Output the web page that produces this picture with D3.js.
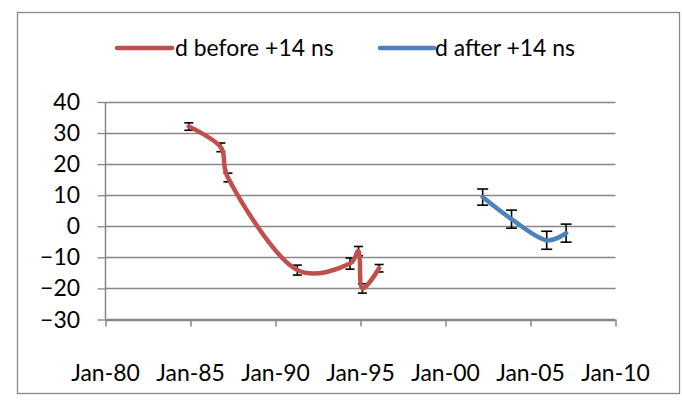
<!DOCTYPE html>
<html>
<head>
<meta charset="utf-8">
<script src="https://cdn.jsdelivr.net/npm/d3@7"></script>
<style>
  html, body { margin: 0; padding: 0; background: #fff; }
  svg { display: block; }
  text { font-family: Lato, "Open Sans", sans-serif; fill: #000; }
</style>
</head>
<body>
<svg id="chart" width="682" height="400"></svg>
<script>
// Series: d before +14 ns
const beforeDates  = ["1984-11-25", "1986-10-15", "1987-03-15", "1991-04-15",
                      "1994-05-20", "1994-11-20", "1995-02-10", "1996-02-05"];
const beforeValues = [32.1, 25.4, 15.7, -14.1, -12.0, -8.0, -20.0, -13.5];
const beforeErrors = [1.2, 1.4, 1.4, 1.6, 1.8, 1.5, 1.5, 1.2];

// Series: d after +14 ns
const afterDates  = ["2002-03-10", "2003-11-20", "2005-12-15", "2007-02-05"];
const afterValues = [9.4, 2.3, -4.5, -2.2];
const afterErrors = [2.6, 2.9, 2.9, 2.9];

const seriesNames = ["d before +14 ns", "d after +14 ns"];
const seriesColors = ["#C0504D", "#4F81BD"];

const yTicks = [40, 30, 20, 10, 0, -10, -20, -30];
const xTickYears = [1980, 1985, 1990, 1995, 2000, 2005, 2010];

const parse = d3.timeParse("%Y-%m-%d");
const fmt = d3.timeFormat("%b-%y");

const svg = d3.select("#chart");
const gridColor = "#878787";

// Outer chart frame
svg.append("rect")
  .attr("x", 17.5).attr("y", 12.5)
  .attr("width", 662).attr("height", 381)
  .attr("fill", "#fff").attr("stroke", gridColor).attr("stroke-width", 1.3);

const x = d3.scaleTime()
  .domain([new Date(1980, 0, 1), new Date(2010, 0, 1)])
  .range([105.5, 615.5]);
const y = d3.scaleLinear().domain([-30, 40]).range([319.5, 102]);

// Labels are fitted to a fixed width per "Jan-80"-sized label.
const fontSize = 23;
const probe = svg.append("text").attr("font-size", fontSize).text("Jan-80");
const stretch = 68.6 / probe.node().getComputedTextLength();
probe.remove();

function label(g, px, py, txt, anchor) {
  return g.append("text")
    .attr("transform", `translate(${px},${py}) scale(${stretch},1)`)
    .attr("text-anchor", anchor)
    .attr("font-size", fontSize)
    .text(txt);
}

// Horizontal gridlines
const grid = svg.append("g");
grid.selectAll("line").data(yTicks).join("line")
  .attr("x1", x.range()[0]).attr("x2", x.range()[1])
  .attr("y1", d => Math.round(y(d)) + 0.5).attr("y2", d => Math.round(y(d)) + 0.5)
  .attr("stroke", gridColor).attr("stroke-width", 1.3);

// Y axis
const yAxis = svg.append("g").attr("transform", `translate(${x.range()[0]},0)`)
  .call(d3.axisLeft(y).tickValues(yTicks).tickSize(8).tickFormat(""));
yAxis.select(".domain").attr("stroke", gridColor).attr("stroke-width", 1.5)
  .attr("d", `M0,${y(-30)}V${y(40)}`);
yAxis.selectAll(".tick line").attr("stroke", gridColor).attr("stroke-width", 1.3);
const yLabels = svg.append("g");
yTicks.forEach(t => label(yLabels, 80, y(t) + 8, d3.format("d")(t), "end"));

// X axis
const xTickDates = xTickYears.map(yr => new Date(yr, 0, 1));
const xAxis = svg.append("g").attr("transform", `translate(0,${y(-30)})`)
  .call(d3.axisBottom(x).tickValues(xTickDates).tickSize(7).tickFormat(""));
xAxis.select(".domain").attr("stroke", gridColor).attr("stroke-width", 1.5)
  .attr("d", `M${x.range()[0]},0H${x.range()[1]}`);
xAxis.selectAll(".tick line").attr("stroke", gridColor).attr("stroke-width", 1.5);
const xLabels = svg.append("g");
xTickDates.forEach(d => label(xLabels, x(d), 380.5, fmt(d), "middle"));

// Series data
const series = [
  { dates: beforeDates, values: beforeValues, errors: beforeErrors, cap: 4.5 },
  { dates: afterDates, values: afterValues, errors: afterErrors, cap: 5.5 }
].map((s, i) => ({
  name: seriesNames[i],
  color: seriesColors[i],
  cap: s.cap,
  points: s.dates.map((d, j) => ({ date: parse(d), value: s.values[j], err: s.errors[j] }))
}));

// Error bars (drawn beneath the lines)
const bars = svg.append("g").attr("stroke", "#000").attr("stroke-width", 1.6);
series.forEach(s => {
  s.points.forEach(p => {
    const px = x(p.date), top = y(p.value + p.err), bot = y(p.value - p.err);
    bars.append("line").attr("x1", px).attr("x2", px).attr("y1", top).attr("y2", bot);
    bars.append("line").attr("x1", px - s.cap).attr("x2", px + s.cap).attr("y1", top).attr("y2", top);
    bars.append("line").attr("x1", px - s.cap).attr("x2", px + s.cap).attr("y1", bot).attr("y2", bot);
  });
});

// Smoothed lines
const line = d3.line().x(p => x(p.date)).y(p => y(p.value)).curve(d3.curveCatmullRom.alpha(0.35));
svg.append("g").selectAll("path").data(series).join("path")
  .attr("d", s => line(s.points))
  .attr("fill", "none")
  .attr("stroke", s => s.color)
  .attr("stroke-width", 4.5)
  .attr("stroke-linecap", "round")
  .attr("stroke-linejoin", "round");

// Legend
const legend = svg.append("g");
const legendItems = [{ x1: 117, x2: 172, tx: 175 }, { x1: 380, x2: 434, tx: 435 }];
series.forEach((s, i) => {
  const it = legendItems[i];
  legend.append("line")
    .attr("x1", it.x1).attr("x2", it.x2).attr("y1", 48).attr("y2", 48)
    .attr("stroke", s.color).attr("stroke-width", 4.5).attr("stroke-linecap", "round");
  label(legend, it.tx, 56, s.name, "start");
});
</script>
</body>
</html>
